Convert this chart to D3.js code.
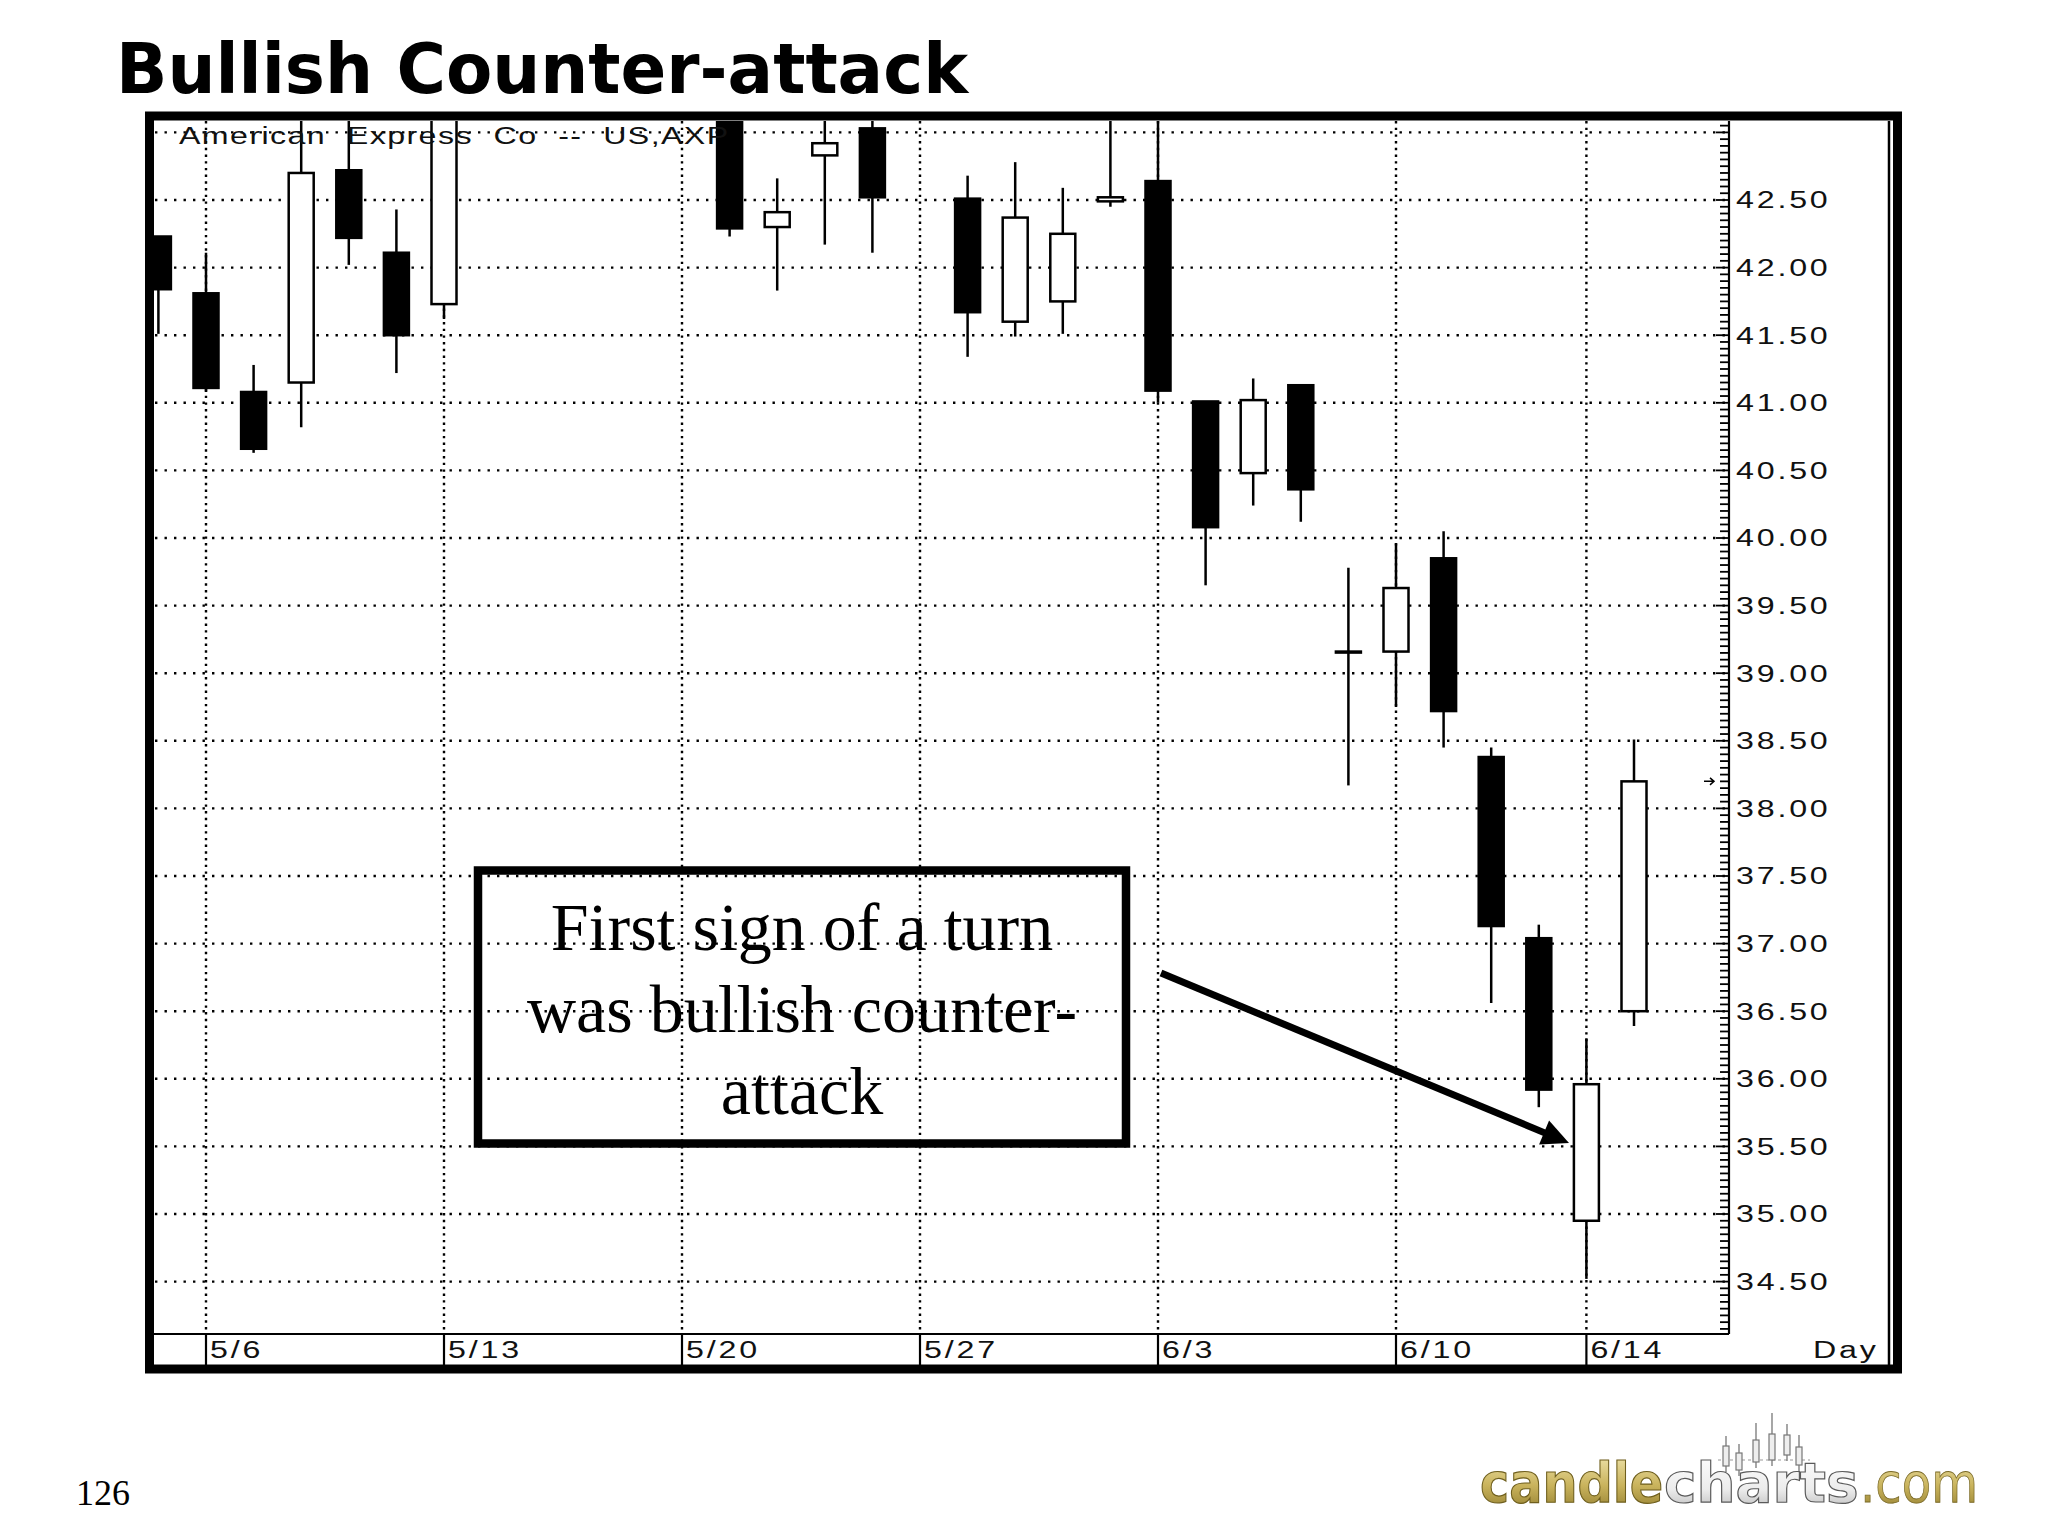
<!DOCTYPE html>
<html>
<head>
<meta charset="utf-8">
<script src="https://cdn.jsdelivr.net/npm/d3@7"></script>
<style>
  html, body { margin: 0; padding: 0; background: #ffffff; }
  svg { display: block; }
</style>
</head>
<body>
<svg id="chart" width="2048" height="1536"></svg>
<script>
// ---------------- DATA ----------------
const dates = ["5/3","5/6","5/7","5/8","5/9","5/10","5/13","5/14","5/15","5/16","5/17",
               "5/20","5/21","5/22","5/23","5/24","5/27","5/28","5/29","5/30","5/31",
               "6/3","6/4","6/5","6/6","6/7","6/10","6/11","6/12","6/13","6/14","6/17"];
const open  = [42.23,41.81,41.08,41.15,42.72,42.11,41.73,43.70,44.10,43.80,44.00,
               44.30,43.60,42.30,42.83,43.03,null,42.51,41.60,41.75,42.49,
               42.64,41.01,40.48,41.13,39.16,39.16,39.85,38.38,37.04,34.95,36.50];
const high  = [42.23,42.11,41.28,43.30,43.20,42.43,43.60,44.40,44.50,44.30,44.60,
               44.50,43.80,42.66,43.20,43.15,null,42.68,42.78,42.59,43.30,
               43.30,41.01,41.18,41.13,39.78,39.96,40.05,38.45,37.14,36.30,38.51];
const low   = [41.51,41.08,40.63,40.82,42.02,41.22,41.62,43.50,43.60,43.40,43.70,
               43.50,42.23,41.83,42.17,42.11,null,41.34,41.49,41.51,42.45,
               41.00,39.65,40.24,40.12,38.17,38.75,38.45,36.56,35.79,34.52,36.39];
const close = [41.84,41.11,40.66,42.70,42.22,41.50,43.40,44.20,43.90,44.00,44.40,
               43.70,42.29,42.41,42.92,42.52,null,41.67,42.37,42.25,42.52,
               41.09,40.08,41.02,40.36,39.16,39.63,38.72,37.13,35.92,35.96,38.20];
const dateTickLabels = ["5/6","5/13","5/20","5/27","6/3","6/10","6/14"];
const priceGridValues = [34.5,35,35.5,36,36.5,37,37.5,38,38.5,39,39.5,40,40.5,41,41.5,42,42.5,43];
const priceLabelValues = [34.5,35,35.5,36,36.5,37,37.5,38,38.5,39,39.5,40,40.5,41,41.5,42,42.5];
const chartTitle = "Bullish Counter-attack";
const securityName = "American  Express  Co  --  US,AXP";
const annotationLines = ["First sign of a turn", "was bullish counter-", "attack"];
const pageNumber = "126";
const axisUnit = "Day";

// ---------------- LAYOUT ----------------
const plot = {left: 153, right: 1729, top: 121, bottom: 1334};
const svg = d3.select("#chart");
svg.append("rect").attr("width", 2048).attr("height", 1536).attr("fill", "#fff");

const x = d3.scaleLinear().domain([0, 30]).range([158.4, 1586.4]);
const y = d3.scaleLinear().domain([34.5, 42.5]).range([1281.6, 200]);

const defs = svg.append("defs");
defs.append("clipPath").attr("id", "plotclip").append("rect")
  .attr("x", plot.left).attr("y", plot.top)
  .attr("width", plot.right - plot.left).attr("height", plot.bottom - plot.top);

// Title
svg.append("text")
  .attr("x", 116).attr("y", 93)
  .attr("font-family", "'DejaVu Sans', Verdana, sans-serif")
  .attr("font-weight", "bold").attr("font-size", 70)
  .attr("textLength", 852).attr("lengthAdjust", "spacingAndGlyphs")
  .text(chartTitle);

const g = svg.append("g");

// Gridlines
const grid = g.append("g").attr("clip-path", "url(#plotclip)");
grid.selectAll("line.h").data(priceGridValues).join("line")
  .attr("class", "h")
  .attr("x1", plot.left + 2).attr("x2", plot.right - 2)
  .attr("y1", d => y(d)).attr("y2", d => y(d))
  .attr("stroke", "#000").attr("stroke-width", 2.4)
  .attr("stroke-dasharray", "2.4 7.1");
grid.selectAll("line.v").data(dateTickLabels).join("line")
  .attr("class", "v")
  .attr("x1", d => x(dates.indexOf(d))).attr("x2", d => x(dates.indexOf(d)))
  .attr("y1", plot.top).attr("y2", plot.bottom)
  .attr("stroke", "#000").attr("stroke-width", 2.4)
  .attr("stroke-dasharray", "2.4 4.3");

// Candles
const candles = dates.map((d, i) => ({i, d, o: open[i], h: high[i], l: low[i], c: close[i]}))
  .filter(c => c.o !== null);
const cg = g.append("g").attr("clip-path", "url(#plotclip)");
const bodyW = 25;
cg.selectAll("line.wick").data(candles).join("line")
  .attr("class", "wick")
  .attr("x1", c => x(c.i)).attr("x2", c => x(c.i))
  .attr("y1", c => y(c.h)).attr("y2", c => y(c.l))
  .attr("stroke", "#000").attr("stroke-width", 2.5);
cg.selectAll("rect.body").data(candles).join("rect")
  .attr("class", "body")
  .attr("x", c => x(c.i) - bodyW / 2)
  .attr("width", bodyW)
  .attr("y", c => y(Math.max(c.o, c.c)))
  .attr("height", c => Math.max(1, Math.abs(y(c.o) - y(c.c))))
  .attr("fill", c => c.c > c.o ? "#fff" : "#000")
  .attr("stroke", "#000").attr("stroke-width", 2.5);

// Security name (drawn over candles)
g.append("text")
  .attr("transform", `translate(179,144) scale(1.4,1)`)
  .attr("font-family", "'Liberation Sans', Arial, sans-serif")
  .attr("font-size", 23).attr("letter-spacing", 1)
  .attr("xml:space", "preserve").style("white-space", "pre")
  .attr("fill", "#111")
  .text(securityName);

// Last price marker
const last = candles[candles.length - 1];
const ly = y(last.c);
g.append("path")
  .attr("d", `M${plot.right - 25},${ly} L${plot.right - 15},${ly} M${plot.right - 19},${ly - 3.5} L${plot.right - 15},${ly} L${plot.right - 19},${ly + 3.5}`)
  .attr("fill", "none").attr("stroke", "#000").attr("stroke-width", 1.5);

// Price axis line and ticks
g.append("line").attr("x1", plot.right).attr("x2", plot.right)
  .attr("y1", plot.top).attr("y2", plot.bottom)
  .attr("stroke", "#000").attr("stroke-width", 2.2);
const minorTicks = d3.range(Math.ceil(y.invert(plot.bottom) * 20), Math.floor(y.invert(plot.top) * 20) + 1);
g.selectAll("line.tick").data(minorTicks).join("line")
  .attr("class", "tick")
  .attr("x1", k => plot.right - (k % 10 === 0 ? 13 : 9)).attr("x2", plot.right)
  .attr("y1", k => y(k / 20)).attr("y2", k => y(k / 20))
  .attr("stroke", "#000").attr("stroke-width", 1.8);
g.selectAll("text.plabel").data(priceLabelValues).join("text")
  .attr("class", "plabel")
  .attr("transform", d => `translate(1736,${y(d) + 8.3}) scale(1.4,1)`)
  .attr("font-family", "'Liberation Sans', Arial, sans-serif")
  .attr("font-size", 23).attr("letter-spacing", 2).attr("fill", "#111")
  .text(d => d.toFixed(2));

// Date axis
g.append("line").attr("x1", plot.left).attr("x2", plot.right)
  .attr("y1", plot.bottom).attr("y2", plot.bottom)
  .attr("stroke", "#000").attr("stroke-width", 2.2);
g.selectAll("line.dtick").data(dateTickLabels).join("line")
  .attr("class", "dtick")
  .attr("x1", d => x(dates.indexOf(d))).attr("x2", d => x(dates.indexOf(d)))
  .attr("y1", plot.bottom).attr("y2", 1366)
  .attr("stroke", "#000").attr("stroke-width", 2.2);
g.selectAll("text.dlabel").data(dateTickLabels).join("text")
  .attr("class", "dlabel")
  .attr("transform", d => `translate(${x(dates.indexOf(d)) + 4},1358) scale(1.4,1)`)
  .attr("font-family", "'Liberation Sans', Arial, sans-serif")
  .attr("font-size", 23).attr("letter-spacing", 2).attr("fill", "#111")
  .text(d => d);
g.append("text")
  .attr("transform", `translate(1813,1358) scale(1.4,1)`)
  .attr("font-family", "'Liberation Sans', Arial, sans-serif")
  .attr("font-size", 23).attr("letter-spacing", 2).attr("fill", "#111")
  .text(axisUnit);

// Inner right rule and outer frame
g.append("line").attr("x1", 1889).attr("x2", 1889).attr("y1", plot.top).attr("y2", 1366)
  .attr("stroke", "#000").attr("stroke-width", 2.5);
svg.append("rect").attr("x", 149.5).attr("y", 116).attr("width", 1748).attr("height", 1253)
  .attr("fill", "none").attr("stroke", "#000").attr("stroke-width", 9);

// Annotation box (transparent)
svg.append("rect").attr("x", 478).attr("y", 870.5).attr("width", 648).attr("height", 273)
  .attr("fill", "none").attr("stroke", "#000").attr("stroke-width", 8.5);
svg.append("g").selectAll("text").data(annotationLines).join("text")
  .attr("x", 802).attr("y", (d, i) => 950 + i * 82)
  .attr("text-anchor", "middle")
  .attr("font-family", "'Liberation Serif', 'Times New Roman', serif")
  .attr("font-size", 68).attr("fill", "#000")
  .text(d => d);

// Arrow from box to the counter-attack candle
const arrowStart = [1161, 973], arrowTip = [1569, 1143];
const dx = arrowTip[0] - arrowStart[0], dy = arrowTip[1] - arrowStart[1];
const len = Math.hypot(dx, dy), ux = dx / len, uy = dy / len;
const headL = 27, headW = 13;
const bx = arrowTip[0] - ux * headL, by = arrowTip[1] - uy * headL;
svg.append("line").attr("x1", arrowStart[0]).attr("y1", arrowStart[1])
  .attr("x2", bx + ux * 2).attr("y2", by + uy * 2)
  .attr("stroke", "#000").attr("stroke-width", 7);
svg.append("path")
  .attr("d", `M${arrowTip[0]},${arrowTip[1]} L${bx - uy * headW},${by + ux * headW} L${bx + uy * headW},${by - ux * headW} Z`)
  .attr("fill", "#000");

// Page number
svg.append("text").attr("x", 76).attr("y", 1505)
  .attr("font-family", "'Liberation Serif', 'Times New Roman', serif")
  .attr("font-size", 36).attr("fill", "#000").text(pageNumber);

// Logo
const grad1 = defs.append("linearGradient").attr("id", "gold").attr("x1", 0).attr("y1", 0).attr("x2", 0).attr("y2", 1);
grad1.append("stop").attr("offset", "0%").attr("stop-color", "#f3e9b4");
grad1.append("stop").attr("offset", "55%").attr("stop-color", "#c9b35c");
grad1.append("stop").attr("offset", "100%").attr("stop-color", "#8f7a2c");
const grad2 = defs.append("linearGradient").attr("id", "silver").attr("x1", 0).attr("y1", 0).attr("x2", 0).attr("y2", 1);
grad2.append("stop").attr("offset", "0%").attr("stop-color", "#ffffff");
grad2.append("stop").attr("offset", "60%").attr("stop-color", "#ececec");
grad2.append("stop").attr("offset", "100%").attr("stop-color", "#b4b4b4");

const logoCandles = [
  {dx: 0,  top: 1436, bt: 1446, bb: 1466},
  {dx: 13, top: 1444, bt: 1453, bb: 1470},
  {dx: 30, top: 1423, bt: 1440, bb: 1462},
  {dx: 46, top: 1413, bt: 1434, bb: 1460},
  {dx: 61, top: 1424, bt: 1435, bb: 1455},
  {dx: 73, top: 1435, bt: 1447, bb: 1465}
];
const lg = svg.append("g");
lg.append("line").attr("x1", 1718).attr("x2", 1810).attr("y1", 1460).attr("y2", 1460)
  .attr("stroke", "#999").attr("stroke-width", 1.2).attr("stroke-dasharray", "3 3");
lg.selectAll("line.lw").data(logoCandles).join("line")
  .attr("x1", d => 1726 + d.dx).attr("x2", d => 1726 + d.dx)
  .attr("y1", d => d.top).attr("y2", d => d.bb + 6)
  .attr("stroke", "#777").attr("stroke-width", 1.3);
lg.selectAll("rect").data(logoCandles).join("rect")
  .attr("x", d => 1726 + d.dx - 3).attr("width", 6)
  .attr("y", d => d.bt).attr("height", d => d.bb - d.bt)
  .attr("fill", "#eee").attr("stroke", "#777").attr("stroke-width", 1.2);

const logoFont = "'DejaVu Sans', Verdana, sans-serif";
svg.append("text").attr("transform", "translate(1480,1502) scale(0.88,1)")
  .attr("font-family", logoFont).attr("font-weight", "bold").attr("font-size", 56)
  .attr("fill", "url(#gold)").attr("stroke", "#6f5f1e").attr("stroke-width", 1.2)
  .text("candle");
svg.append("text").attr("transform", "translate(1664,1502) scale(0.98,1)")
  .attr("font-family", logoFont).attr("font-weight", "bold").attr("font-size", 56)
  .attr("fill", "url(#silver)").attr("stroke", "#5a5a5a").attr("stroke-width", 1.2)
  .text("charts");
svg.append("text").attr("transform", "translate(1860,1502) scale(0.86,1)")
  .attr("font-family", logoFont).attr("font-size", 56)
  .attr("fill", "url(#gold)").attr("stroke", "#7a6a28").attr("stroke-width", 0.8)
  .text(".com");
</script>
</body>
</html>
